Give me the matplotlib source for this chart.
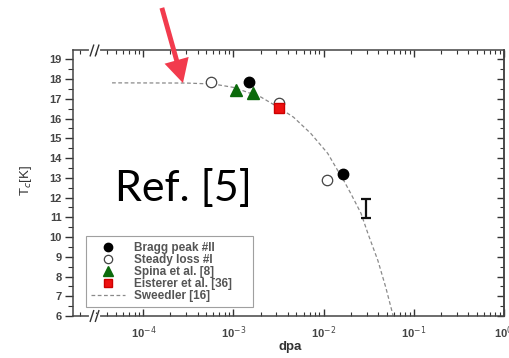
import matplotlib
matplotlib.use("Agg")
import matplotlib.pyplot as plt
from matplotlib.ticker import LogLocator, MultipleLocator, FixedLocator

plt.rcParams["font.family"] = ["Liberation Sans", "DejaVu Sans"]

# ---------------------------------------------------------------------------
# data
# ---------------------------------------------------------------------------
bragg_x = [1.5e-3, 1.65e-2]
bragg_y = [17.83, 13.18]

steady_x = [5.7e-4, 3.24e-3, 1.08e-2]
steady_y = [17.85, 16.78, 12.88]

spina_x = [1.08e-3, 1.63e-3]
spina_y = [17.47, 17.29]

eisterer_x = [3.2e-3]
eisterer_y = [16.54]

sweedler_x = [4.5e-5, 3e-4, 6e-4, 1e-3, 2e-3, 3.2e-3, 4.64e-3, 7.2e-3,
              1.11e-2, 1.43e-2, 1.67e-2, 2.0e-2, 2.6e-2, 3.1e-2, 4.0e-2,
              4.9e-2, 5.9e-2]
sweedler_y = [17.81, 17.8, 17.75, 17.58, 17.1, 16.55, 16.07, 15.25,
              14.24, 13.38, 12.87, 12.21, 11.2, 10.18, 8.81, 7.44, 6.02]

errbar_x = [2.93e-2]
errbar_y = [11.45]
errbar_h = [0.5]

x_ticks = [1e-4, 1e-3, 1e-2, 1e-1, 1e0]
x_ticklabels = ["10$^{-4}$", "10$^{-3}$", "10$^{-2}$", "10$^{-1}$", "10$^{0}$"]
y_ticks = list(range(6, 20))

# ---------------------------------------------------------------------------
fig = plt.figure(figsize=(5.09, 3.58), dpi=100)
ax = fig.add_axes([0.1434, 0.1173, 0.8466, 0.7417])

ax.plot(sweedler_x, sweedler_y, ls=(0, (3, 2)), color="#8a8a8a", lw=0.9,
        label="Sweedler [16]", zorder=2)
ax.plot(bragg_x, bragg_y, "o", ms=7.5, mfc="black", mec="black",
        label="Bragg peak #II", zorder=4)
ax.plot(steady_x, steady_y, "o", ms=7.5, mfc="white", mec="#444444",
        mew=0.9, label="Steady loss #I", zorder=3)
ax.plot(spina_x, spina_y, "^", ms=8.5, mfc="#0b6a0b", mec="#0b6a0b",
        label="Spina et al. [8]", zorder=4)
ax.plot(eisterer_x, eisterer_y, "s", ms=7, mfc="#ee1111", mec="#cc0000",
        label="Eisterer et al. [36]", zorder=5)
ax.errorbar(errbar_x, errbar_y, yerr=errbar_h, fmt="none", ecolor="#111111",
            elinewidth=1.6, capsize=3.5, capthick=1.6, zorder=4)

ax.set_xscale("log")
ax.set_xlim(1.66e-5, 1.0)
ax.set_ylim(6, 19.45)

ax.xaxis.set_major_locator(FixedLocator(x_ticks))
ax.xaxis.set_minor_locator(LogLocator(base=10, subs=range(2, 10), numticks=20))
ax.set_xticks(x_ticks)
ax.set_xticklabels(x_ticklabels)
ax.set_yticks(y_ticks)
ax.yaxis.set_minor_locator(MultipleLocator(0.5))

ax.tick_params(axis="x", which="both", direction="in", top=True,
               labelsize=8, labelcolor="#444444", color="#333333", pad=6)
ax.tick_params(axis="x", which="major", length=5, width=1)
ax.tick_params(axis="x", which="minor", length=3, width=0.8)
ax.tick_params(axis="y", which="both", direction="out", right=False,
               labelsize=8, labelcolor="#444444", color="#333333", pad=2)
ax.tick_params(axis="y", which="major", length=6, width=1)
ax.tick_params(axis="y", which="minor", length=3.5, width=0.8)
for lab in ax.get_yticklabels() + ax.get_xticklabels():
    lab.set_fontweight("bold")

# inward ticks on the right spine
ry = ax.secondary_yaxis("right")
ry.set_yticks(y_ticks)
ry.yaxis.set_minor_locator(MultipleLocator(0.5))
ry.tick_params(which="both", direction="in", labelright=False, color="#333333")
ry.tick_params(which="major", length=5, width=1)
ry.tick_params(which="minor", length=3, width=0.8)

for sp in ax.spines.values():
    sp.set_color("#444444")
    sp.set_linewidth(1.1)
ry.spines["right"].set_color("#444444")
ry.spines["right"].set_linewidth(1.1)

# axis break marks on top and bottom spines
for yb in (0.0, 1.0):
    ax.plot([0.041, 0.058], [yb, yb], color="white", lw=3,
            transform=ax.transAxes, clip_on=False, zorder=10)
    for xb in (0.040, 0.052):
        ax.plot([xb, xb + 0.008], [yb - 0.02, yb + 0.02], color="#333333",
                lw=1, transform=ax.transAxes, clip_on=False, zorder=11)

ax.set_xlabel("dpa", fontsize=9.5, fontweight="bold", color="#333333")
ax.xaxis.set_label_coords(0.505, -0.095)
ax.set_ylabel("T$_c$[K]", fontsize=9.5, color="#333333")
ax.yaxis.set_label_coords(-0.09, 0.51)

handles, labels = ax.get_legend_handles_labels()
order = [1, 2, 3, 4, 0]
leg = ax.legend([handles[i] for i in order], [labels[i] for i in order],
                loc="lower left", bbox_to_anchor=(0.03, 0.034, 0.388, 0.26),
                mode="expand", prop={"size": 8.5, "weight": "bold"},
                frameon=True, fancybox=False, edgecolor="#888888",
                handlelength=2.9, handletextpad=0.75, labelspacing=0.0,
                borderpad=0.45, borderaxespad=0, numpoints=1, markerscale=0.8)
leg.get_frame().set_linewidth(0.8)
for t in leg.get_texts():
    t.set_color("#555555")

fig.text(0.226, 0.438, "Ref. [5]", fontsize=31, family=["Lato", "DejaVu Sans"],
         color="black", ha="left", va="baseline")

ax.annotate("", xy=(0.3595, 0.768), xycoords="figure fraction",
            xytext=(0.318, 0.978), textcoords="figure fraction",
            arrowprops=dict(width=3.5, headwidth=18, headlength=17,
                            color="#f23b4d", lw=0))

fig.savefig("out.png", dpi=100)
